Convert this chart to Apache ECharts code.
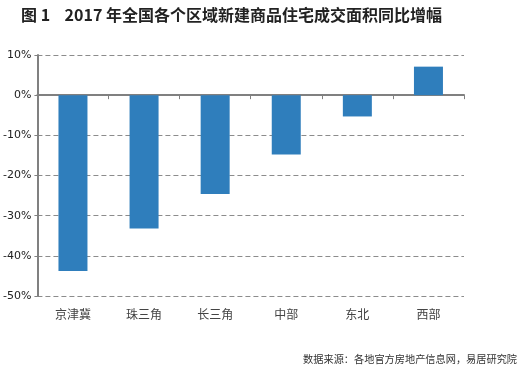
<!DOCTYPE html>
<html>
<head>
<meta charset="utf-8">
<script src="https://cdn.jsdelivr.net/npm/echarts@6/dist/echarts.min.js"></script>
<style>
html,body{margin:0;padding:0;background:#fff;}
#c{width:525px;height:369px;}
</style>
</head>
<body>
<div id="c"></div>
<script>
var categories = ['京津冀', '珠三角', '长三角', '中部', '东北', '西部'];
var growthValues = [-43.8, -33.2, -24.6, -14.8, -5.3, 7.1];
var titleText = '图 1    2017 年全国各个区域新建商品住宅成交面积同比增幅';
var sourceText = '数据来源：各地官方房地产信息网，易居研究院';

var chart = echarts.init(document.getElementById('c'), null, {renderer: 'canvas'});
chart.setOption({
  backgroundColor: '#fff',
  animation: false,
  title: [{
    text: titleText,
    left: 16, top: 2,
    textStyle: {fontFamily: 'Noto Sans CJK SC', fontSize: 16, fontWeight: 'bold', color: '#222'}
  }, {
    text: sourceText,
    right: 3, top: 349,
    textStyle: {fontFamily: 'Noto Sans CJK SC', fontSize: 10.2, fontWeight: 'normal', color: '#333'}
  }],
  grid: {left: 34, right: 61, top: 55, bottom: 73, containLabel: false},
  xAxis: [{
    type: 'category',
    data: categories,
    position: 'bottom',
    axisLine: {show: false, onZero: false},
    axisTick: {show: false},
    axisLabel: {margin: 12, fontFamily: 'Noto Sans CJK SC', fontSize: 12, color: '#444'}
  }, {
    type: 'category',
    data: categories,
    position: 'top',
    axisLine: {show: true, onZero: true, lineStyle: {color: '#808080', width: 2}},
    axisTick: {show: true, inside: true, length: 4, alignWithLabel: false, lineStyle: {color: '#808080', width: 1}},
    axisLabel: {show: false},
    splitLine: {show: false}
  }],
  yAxis: {
    type: 'value',
    min: -50, max: 10, interval: 10,
    axisLine: {show: true, lineStyle: {color: '#808080', width: 2}},
    axisTick: {show: true, length: 3, lineStyle: {color: '#808080', width: 1}},
    axisLabel: {formatter: '{value}%', fontFamily: 'DejaVu Sans', fontSize: 11, color: '#222', margin: 6},
    splitLine: {show: true, lineStyle: {color: '#8c8c8c', type: [5, 3], width: 1}}
  },
  series: [{
    type: 'bar',
    xAxisIndex: 0,
    data: growthValues,
    barWidth: 29,
    itemStyle: {color: '#2f7ebc'}
  }]
});
</script>
</body>
</html>
